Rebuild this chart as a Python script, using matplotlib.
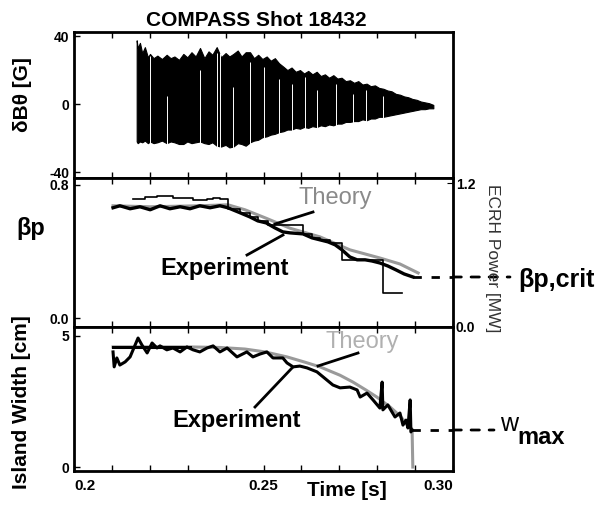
import matplotlib
matplotlib.use('Agg')
import matplotlib.pyplot as plt
import numpy as np

plt.rcParams['font.family'] = ['Liberation Sans', 'DejaVu Sans']

# ---- top panel: dB_theta envelope of the Mirnov signal [G]
sig_t = [0.21654, 0.21680, 0.21740, 0.21800, 0.21870, 0.21950, 0.22005, 0.22100, 0.22200,
         0.22320, 0.22445, 0.22550, 0.22650, 0.22770, 0.22885, 0.22990, 0.23100, 0.23210,
         0.23325, 0.23440, 0.23550, 0.23650, 0.23765, 0.23880, 0.24000, 0.24100, 0.24204,
         0.24320, 0.24420, 0.24530, 0.24644, 0.24750, 0.24860, 0.24970, 0.25084, 0.25190,
         0.25300, 0.25410, 0.25523, 0.25630, 0.25740, 0.25850, 0.25963, 0.26070, 0.26180,
         0.26290, 0.26403, 0.26510, 0.26620, 0.26730, 0.26843, 0.26950, 0.27060, 0.27170,
         0.27282, 0.27390, 0.27500, 0.27610, 0.27722, 0.27830, 0.27940, 0.28050, 0.28162,
         0.28270, 0.28380, 0.28490, 0.28602, 0.28710, 0.28820, 0.28930, 0.29041, 0.29150,
         0.29260, 0.29370, 0.29481]
sig_hi = [37.5, 33.0, 36.0, 30.0, 33.5, 27.5, 29.5, 27.0, 28.5,
          26.5, 29.0, 27.0, 28.0, 26.0, 29.5, 27.5, 30.5, 28.0,
          33.0, 27.0, 31.0, 29.0, 33.5, 27.5, 30.0, 28.0, 29.5,
          31.5, 28.0, 30.5, 30.5, 27.0, 29.0, 26.5, 28.0, 25.5,
          27.0, 24.0, 22.0, 20.0, 21.5, 19.0, 20.0, 18.0, 19.5,
          17.5, 19.0, 16.5, 17.5, 15.5, 17.0, 15.0, 15.5, 13.5,
          14.0, 12.5, 13.5, 11.5, 12.0, 10.5, 11.0, 9.5, 9.0,
          8.0, 7.5, 6.0, 5.5, 4.5, 4.0, 3.0, 2.5, 1.5,
          1.0, 0.5, -0.5]
sig_lo = [-22.0, -23.0, -22.0, -22.5, -21.5, -23.0, -22.0, -23.0, -22.5,
          -21.5, -23.0, -22.0, -22.5, -23.5, -23.5, -22.0, -23.0, -22.5,
          -22.0, -23.0, -23.5, -22.5, -24.5, -25.0, -24.0, -25.5, -25.0,
          -23.0, -23.5, -24.5, -22.5, -21.5, -21.0, -19.5, -19.0, -18.0,
          -17.5, -16.5, -16.0, -15.0, -15.0, -14.0, -14.5, -13.5, -14.0,
          -13.0, -13.5, -12.5, -13.0, -12.0, -12.5, -11.5, -11.5, -10.5,
          -10.5, -10.0, -10.0, -9.0, -9.5, -8.5, -8.5, -7.5, -7.5,
          -7.0, -6.5, -6.0, -5.5, -5.0, -4.5, -4.0, -3.5, -3.0,
          -3.0, -2.5, -2.5]
gap_t = [0.2200, 0.2246, 0.2332, 0.2378, 0.2384, 0.2420, 0.2465, 0.2500, 0.2540,
         0.2575, 0.2610, 0.2640, 0.2690, 0.2735, 0.2770, 0.2815]
gap_top = [28, 5, 20, 30, 30, 10, 25, 22, 15, 12, 16, 8, 12, 6, 8, 5]

# ---- middle panel: beta_p
exp_bt = [0.2103, 0.2121, 0.2148, 0.2174, 0.2201, 0.2227, 0.2253, 0.2280, 0.2306, 0.2332,
          0.2359, 0.2385, 0.2406, 0.2438, 0.2464, 0.2485, 0.2507, 0.2530, 0.2551, 0.2570,
          0.2604, 0.2628, 0.2649, 0.2670, 0.2689, 0.2707, 0.2728, 0.2747, 0.2768, 0.2786,
          0.2807, 0.2828, 0.2850, 0.2871, 0.2894]
exp_beta = [0.663, 0.675, 0.657, 0.669, 0.651, 0.675, 0.657, 0.669, 0.657, 0.675,
            0.663, 0.675, 0.663, 0.633, 0.608, 0.584, 0.572, 0.542, 0.518, 0.512,
            0.506, 0.482, 0.470, 0.458, 0.440, 0.410, 0.367, 0.350, 0.350, 0.343,
            0.331, 0.313, 0.289, 0.265, 0.247]
th_bt = [0.2103, 0.2201, 0.2332, 0.2406, 0.2451, 0.2507, 0.2570, 0.2649, 0.2728,
         0.2807, 0.2860, 0.2908]
th_beta = [0.675, 0.669, 0.675, 0.681, 0.651, 0.600, 0.540, 0.488, 0.410,
           0.361, 0.325, 0.271]
beta_crit = 0.247

# ECRH power [MW], step curve
ecrh_t = [0.2156, 0.2188, 0.2220, 0.2262, 0.2314, 0.2351, 0.2367, 0.2385, 0.2406, 0.2438,
          0.2464, 0.2485, 0.2512, 0.2604, 0.2628, 0.2649, 0.2675, 0.2707, 0.2815, 0.2866]
ecrh_p = [1.067, 1.083, 1.092, 1.075, 1.058, 1.067, 1.075, 1.067, 0.983, 0.950,
          0.917, 0.883, 0.850, 0.775, 0.742, 0.725, 0.700, 0.558, 0.283, 0.283]

# ---- bottom panel: island width [cm]
exp_wt = [0.2103, 0.2106, 0.2113, 0.2121, 0.2135, 0.2148, 0.2169, 0.2179, 0.2193, 0.2206,
          0.2219, 0.2227, 0.2245, 0.2261, 0.2280, 0.2298, 0.2314, 0.2332, 0.2351, 0.2367,
          0.2385, 0.2404, 0.2430, 0.2456, 0.2472, 0.2491, 0.2509, 0.2525, 0.2551, 0.2562,
          0.2578, 0.2596, 0.2615, 0.2641, 0.2657, 0.2683, 0.2702, 0.2728, 0.2747, 0.2755,
          0.2773, 0.2789, 0.2807, 0.2813, 0.2815, 0.2828, 0.2839, 0.2847, 0.2860, 0.2868,
          0.2876, 0.2881, 0.2887, 0.2889, 0.2892]
exp_w = [4.39, 3.82, 4.16, 3.89, 4.01, 4.20, 4.92, 4.66, 4.35, 4.73,
         4.54, 4.62, 4.47, 4.54, 4.39, 4.58, 4.47, 4.39, 4.54, 4.62,
         4.39, 4.54, 4.20, 4.39, 4.20, 4.31, 4.39, 4.16, 4.16, 3.97,
         3.82, 3.85, 3.78, 3.63, 3.44, 3.13, 3.02, 3.05, 2.94, 2.67,
         2.82, 2.56, 2.25, 3.24, 2.18, 2.37, 2.10, 1.91, 2.06, 1.60,
         1.79, 1.49, 2.56, 1.34, 1.41]
th_wt = [0.2103, 0.2201, 0.2306, 0.2385, 0.2451, 0.2504, 0.2562, 0.2609, 0.2649, 0.2702,
         0.2736, 0.2770, 0.2799, 0.2834, 0.2860, 0.2881, 0.2892, 0.2894]
th_w = [4.58, 4.58, 4.58, 4.56, 4.50, 4.39, 4.20, 4.00, 3.82, 3.50,
        3.24, 2.94, 2.67, 2.29, 1.95, 1.60, 1.45, 0.0]
w_max = 1.41

W, H = 606, 508


def fp(x, y):
    # pixel position (from top left) -> figure fraction
    return x / W, 1 - y / H


fig = plt.figure(figsize=(W / 100, H / 100), dpi=100)
ax1 = fig.add_axes([74 / W, 1 - 178 / H, 379 / W, 146 / H])
ax2 = fig.add_axes([74 / W, 1 - 327 / H, 379 / W, 149 / H])
ax3 = fig.add_axes([74 / W, 1 - 471 / H, 379 / W, 144 / H])

for ax in (ax1, ax2, ax3):
    ax.set_xlim(0.2, 0.30)
    for s in ax.spines.values():
        s.set_linewidth(2.0)
    ax.set_xticks([0.2, 0.25, 0.30])
    ax.set_xticks(np.arange(0.21, 0.30, 0.01), minor=True)
    ax.tick_params(axis='x', which='both', direction='in', top=True, length=4, width=1)
    ax.tick_params(axis='y', direction='in', length=4, width=1, labelsize=10)

# top panel
ax1.fill_between(sig_t, sig_lo, sig_hi, color='black', lw=0.8)
ax1.vlines(gap_t, -30, gap_top, color='white', lw=0.7)
ax1.set_ylim(-43.5, 42.4)
ax1.set_yticks([-40, 0, 40])
ax1.set_yticklabels(['-40', '0', '40'], fontweight='bold', fontsize=10)
ax1.tick_params(axis='x', labelbottom=False)

# middle panel
ax2.plot(th_bt, th_beta, color='#9a9a9a', lw=2.2, zorder=2)
ax2.plot(exp_bt, exp_beta, color='black', lw=2.4, zorder=3)
ax2.set_ylim(-0.054, 0.842)
ax2.set_yticks([0.0, 0.8])
ax2.set_yticklabels(['0.0', '0.8'], fontweight='bold', fontsize=10)
ax2.tick_params(axis='x', labelbottom=False)
ax2b = ax2.twinx()
ax2b.step(ecrh_t, ecrh_p, where='post', color='black', lw=1.2)
ax2b.set_ylim(0, 1.242)
ax2b.set_yticks([0.0, 1.2])
ax2b.set_yticklabels(['0.0', '1.2'], fontweight='bold', fontsize=10)
ax2b.tick_params(axis='y', direction='in', length=4, pad=2)
ax2b.set_xlim(0.2, 0.30)
ax2.plot([exp_bt[-1], 0.3], [beta_crit, beta_crit], color='black', ls=(0, (3, 3.5)), lw=2)
ax2.annotate('', xy=fp(510, 277), xytext=fp(453, 277), xycoords='figure fraction',
             arrowprops=dict(arrowstyle='-', ls=(0, (3, 3.5)), lw=2, color='black', shrinkA=0, shrinkB=0))

# bottom panel
ax3.plot(th_wt, th_w, color='#9a9a9a', lw=2.2, zorder=2)
ax3.plot(th_wt[:3], th_w[:3], color='black', lw=2.2, zorder=2)
ax3.plot(exp_wt, exp_w, color='black', lw=2.2, zorder=3)
ax3.plot([exp_wt[-1], 0.3], [w_max, w_max], color='black', ls=(0, (3, 3.5)), lw=2)
ax3.annotate('', xy=fp(494, 430), xytext=fp(453, 430), xycoords='figure fraction',
             arrowprops=dict(arrowstyle='-', ls=(0, (3, 3.5)), lw=2, color='black', shrinkA=0, shrinkB=0))
ax3.set_ylim(-0.15, 5.34)
ax3.set_yticks([0, 5])
ax3.set_yticklabels(['0', '5'], fontweight='bold', fontsize=10)
ax3.set_xticklabels(['0.2', '0.25', '0.30'], fontweight='bold', fontsize=11)
ax3.tick_params(axis='x', pad=6)
xl = ax3.get_xticklabels()
xl[0].set_ha('left')
xl[2].set_ha('right')

# arrows to the curves
for a, b in [((313, 212), (275, 224)), ((247, 255), (283, 235)),
             ((358, 353), (318, 366)), ((255, 407), (292, 368))]:
    fig.add_artist(plt.Line2D([a[0] / W, b[0] / W], [1 - a[1] / H, 1 - b[1] / H],
                              color='black', lw=2))

# texts
fig.text(*fp(256, 20), 'COMPASS Shot 18432', ha='center', va='center', fontsize=15, fontweight='bold')
fig.text(*fp(22, 95), 'δBθ [G]', ha='center', va='center', rotation=90, fontsize=15, fontweight='bold')
fig.text(*fp(31, 228), 'βp', ha='center', va='center', fontsize=17, fontweight='bold')
fig.text(*fp(22, 402), 'Island Width [cm]', ha='center', va='center', rotation=90, fontsize=15, fontweight='bold')
fig.text(*fp(347, 490), 'Time [s]', ha='center', va='center', fontsize=15, fontweight='bold')
fig.text(*fp(492, 258), 'ECRH Power [MW]', ha='center', va='center', rotation=270, fontsize=12.5, color='#333333')
fig.text(*fp(335, 198), 'Theory', ha='center', va='center', fontsize=17, color='#8a8a8a')
fig.text(*fp(225, 268), 'Experiment', ha='center', va='center', fontsize=17, fontweight='bold')
fig.text(*fp(362, 342), 'Theory', ha='center', va='center', fontsize=17, color='#b0b0b0')
fig.text(*fp(237, 420), 'Experiment', ha='center', va='center', fontsize=17, fontweight='bold')
fig.text(*fp(518, 280), 'βp,crit', ha='left', va='center', fontsize=18, fontweight='bold')
fig.text(*fp(500, 424), 'w', ha='left', va='center', fontsize=18)
fig.text(*fp(517, 437), 'max', ha='left', va='center', fontsize=17, fontweight='bold')

fig.savefig('out.png', dpi=100)
